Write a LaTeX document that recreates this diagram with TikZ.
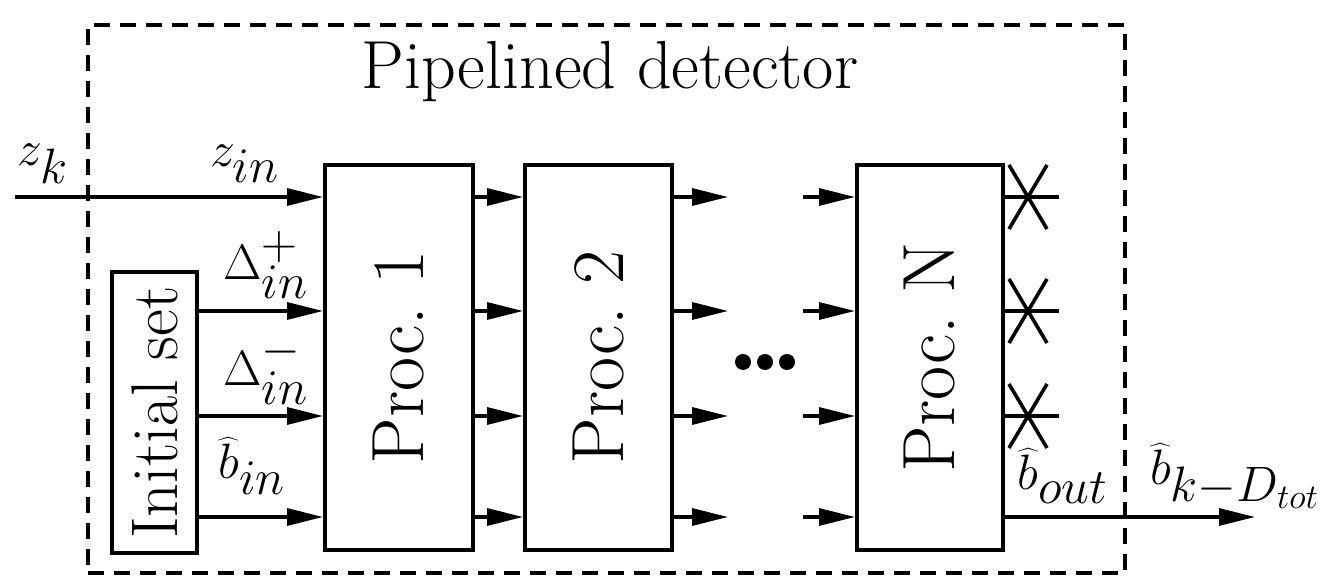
\documentclass[tikz,border=0pt]{standalone}
\usepackage{graphicx}
\usetikzlibrary{arrows.meta}
\begin{document}
\begin{tikzpicture}[x=0.5pt,y=-0.5pt,
  every node/.style={font=\fontsize{33}{40}\selectfont},
  lbl/.style={inner sep=0.5pt},
  blk/.style={draw, line width=2pt, inner sep=0pt, rectangle},
  conn/.style={line width=1.6pt, -{Triangle[length=18pt,width=8.5pt]}},
  wire/.style={line width=1.8pt},
  frame/.style={draw, dash pattern=on 8pt off 5pt, line width=2pt, inner sep=0pt}]
\useasboundingbox (0,0) rectangle (1328,581);
% frame and title
\node[frame, minimum width=518.5pt, minimum height=274pt] (det) at (606.5,299) {};
\node[lbl, font=\fontsize{34}{40}\selectfont] (title) at (610,72) {Pipelined detector};
% rows and columns
\coordinate (r1) at (0,197);
\coordinate (r2) at (0,311);
\coordinate (r3) at (0,416);
\coordinate (r4) at (0,517);
\coordinate (c2) at (728,0);
\coordinate (c3) at (803,0);
\coordinate (zsrc) at (15,197);
\coordinate (out) at (1255,517);
% blocks
\node[blk, minimum width=42.5pt, minimum height=140.5pt] (init) at (154.5,412.5) {\rotatebox{90}{Initial set}};
\node[blk, minimum width=74pt, minimum height=192.5pt, font=\fontsize{37}{40}\selectfont] (p1) at (399,357.5) {\rotatebox{90}{Proc.\ 1}};
\node[blk, minimum width=73.5pt, minimum height=192.5pt, font=\fontsize{37}{40}\selectfont] (p2) at (598.5,357.5) {\rotatebox{90}{Proc.\ 2}};
\node[blk, minimum width=73pt, minimum height=192.5pt, font=\fontsize{37}{40}\selectfont] (pN) at (930,357.5) {\rotatebox{90}{Proc.\ N}};
% connectors
\draw[conn] (zsrc) -- (p1.west |- r1);
\foreach \r in {r2,r3,r4} \draw[conn] (init.east |- \r) -- (p1.west |- \r);
\foreach \r in {r1,r2,r3,r4} {
  \draw[conn] (p1.east |- \r) -- (p2.west |- \r);
  \draw[conn] (p2.east |- \r) -- (c2 |- \r);
  \draw[conn] (c3 |- \r) -- (pN.west |- \r);
}
\draw[conn] (pN.east |- r4) -- (out);
% dots
\fill (743,362) circle (4pt);
\fill (765,362) circle (4pt);
\fill (787,362) circle (4pt);
% terminated outputs
\coordinate (s1) at (1028,197);
\coordinate (s2) at (1028,311);
\coordinate (s3) at (1028,416);
\foreach \r/\s in {r1/s1,r2/s2,r3/s3} {
  \draw[wire] (pN.east |- \r) -- ++(54,0);
  \draw[wire] (\s) ++(-19,-32) -- ++(38,64);
  \draw[wire] (\s) ++(-19,32) -- ++(38,-64);
}
% labels
\node[lbl] (lzk) at (43,164) {$z_k$};
\node[lbl] (lzin) at (245,164) {$z_{in}$};
\node[lbl] (ldp) at (266,265) {$\Delta^{+}_{in}$};
\node[lbl] (ldm) at (266,370) {$\Delta^{-}_{in}$};
\node[lbl] (lbin) at (252,466) {$\widehat{b}_{in}$};
\node[lbl] (lbout) at (1063,476) {$\widehat{b}_{out}$};
\node[lbl] (lbk) at (1235,476) {$\widehat{b}_{k-D_{tot}}$};
\end{tikzpicture}
\end{document}
